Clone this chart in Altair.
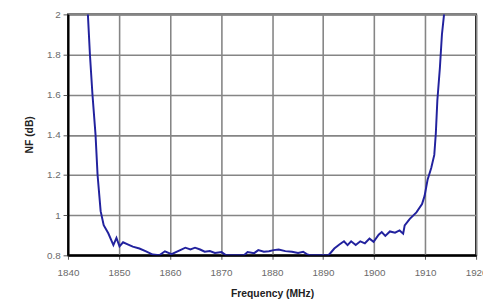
import altair as alt
import pandas as pd

freq = [1843.8, 1843.9, 1844.3, 1844.8, 1845.4, 1845.8, 1846.4, 1847.0, 1847.9, 1848.9,
        1849.5, 1850.1, 1850.8, 1851.7, 1852.7, 1854.0, 1855.3, 1856.6, 1857.9, 1859.0,
        1860.3, 1862.0, 1863.0, 1864.0, 1864.9, 1865.9, 1866.8, 1867.8, 1868.8, 1870.1,
        1871.0, 1874.5, 1875.2, 1876.5, 1877.3, 1878.4, 1879.4, 1880.3, 1881.3, 1882.6,
        1883.9, 1885.1, 1886.1, 1886.8, 1887.5, 1891.0, 1891.5, 1892.2, 1893.2, 1894.1,
        1894.8, 1895.5, 1896.4, 1897.3, 1898.2, 1899.1, 1899.9, 1900.9, 1901.5, 1902.2,
        1903.1, 1904.1, 1905.0, 1905.7, 1906.0, 1907.0, 1908.3, 1909.4, 1909.9, 1910.5,
        1911.2, 1911.8, 1912.1, 1912.4, 1912.9, 1913.3, 1913.7, 1913.8]
nf = [2.05, 2.0, 1.8, 1.6, 1.4, 1.2, 1.02, 0.95, 0.91, 0.851,
      0.887, 0.845, 0.865, 0.855, 0.843, 0.834, 0.82, 0.804, 0.80, 0.82,
      0.806, 0.826, 0.838, 0.829, 0.838, 0.829, 0.818, 0.821, 0.812, 0.816,
      0.80, 0.80, 0.816, 0.811, 0.826, 0.818, 0.82, 0.826, 0.829, 0.821,
      0.818, 0.812, 0.818, 0.806, 0.80, 0.80, 0.813, 0.834, 0.854, 0.87,
      0.851, 0.87, 0.851, 0.87, 0.86, 0.883, 0.867, 0.903, 0.916, 0.897,
      0.919, 0.913, 0.924, 0.908, 0.949, 0.982, 1.014, 1.055, 1.096, 1.178,
      1.235, 1.3, 1.407, 1.571, 1.734, 1.9, 1.996, 2.05]

x_ticks = [1840, 1850, 1860, 1870, 1880, 1890, 1900, 1910, 1920]
y_ticks = [0.8, 1.0, 1.2, 1.4, 1.6, 1.8, 2.0]

df = pd.DataFrame({"freq": freq, "nf": nf})

chart = alt.Chart(df).mark_line(color="#22229e", strokeWidth=2, clip=True).encode(
    x=alt.X("freq:Q", scale=alt.Scale(domain=[1840, 1920], nice=False),
            axis=alt.Axis(values=x_ticks, format="d", title="Frequency (MHz)",
                          labelFlush=False, labelOverlap=False,
                          tickSize=4, labelPadding=9, titleY=39, titleBaseline="middle")),
    y=alt.Y("nf:Q", scale=alt.Scale(domain=[0.8, 2.0], nice=False, zero=False),
            axis=alt.Axis(values=y_ticks, format="~g", title="NF (dB)",
                          labelFlush=False, labelOverlap=False,
                          tickSize=5, labelPadding=3, titleX=-39, titleY=122,
                          titleAngle=270, titleBaseline="middle", titleAlign="center")),
).properties(
    width=415, height=245,
    autosize=alt.AutoSizeParams(type="none"),
    padding={"left": 61, "top": 4, "right": 7, "bottom": 47},
).configure_view(
    stroke="black", strokeWidth=2
).configure_axis(
    gridColor="#858585", gridWidth=1.6, gridOpacity=1,
    domainColor="black", domainWidth=2,
    tickColor="#555555", tickWidth=1,
    labelColor="#6a6a6a", labelFont="Liberation Sans", labelFontSize=10,
    titleFont="Liberation Sans", titleFontSize=10.5, titleFontWeight="bold", titleColor="#222222",
)

chart.save("out.html", embed_options={"renderer": "svg", "actions": False})
